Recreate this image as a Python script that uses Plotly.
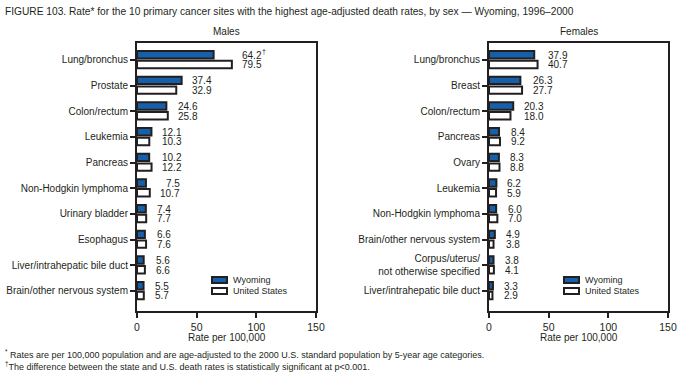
import plotly.graph_objects as go

# ---------------- data ----------------
male_sites = ["Lung/bronchus", "Prostate", "Colon/rectum", "Leukemia", "Pancreas",
              "Non-Hodgkin lymphoma", "Urinary bladder", "Esophagus",
              "Liver/intrahepatic bile duct", "Brain/other nervous system"]
male_wy = [64.2, 37.4, 24.6, 12.1, 10.2, 7.5, 7.4, 6.6, 5.6, 5.5]
male_us = [79.5, 32.9, 25.8, 10.3, 12.2, 10.7, 7.7, 7.6, 6.6, 5.7]
male_sig = [True, False, False, False, False, False, False, False, False, False]

female_sites = ["Lung/bronchus", "Breast", "Colon/rectum", "Pancreas", "Ovary",
                "Leukemia", "Non-Hodgkin lymphoma", "Brain/other nervous system",
                "Corpus/uterus/<br>not otherwise specified", "Liver/intrahepatic bile duct"]
female_wy = [37.9, 26.3, 20.3, 8.4, 8.3, 6.2, 6.0, 4.9, 3.8, 3.3]
female_us = [40.7, 27.7, 18.0, 9.2, 8.8, 5.9, 7.0, 3.8, 4.1, 2.9]
female_sig = [False] * 10

x_ticks = [0, 50, 100, 150]
series_names = ["Wyoming", "United States"]

# ---------------- styling ----------------
W, H = 691, 381
FONT = "Liberation Sans, Arial, sans-serif"
BLUE = "#1560a8"
BLACK = "#231f20"

def px(x):
    return x / W

def py(y):
    return 1 - y / H

# plot boxes in pixels
left_box = (137, 316)
right_box = (489, 668)
top_px, bot_px = 43, 311

fig = go.Figure()

panels = [
    ("x", "y", male_sites, male_wy, male_us, male_sig, left_box, "Males"),
    ("x2", "y2", female_sites, female_wy, female_us, female_sig, right_box, "Females"),
]

annotations = []
shapes = []

def text_w(s):
    return sum(2.78 if c == "." else 5.56 for c in s)

for xa, ya, sites, wy, us, sig, box, title in panels:
    idx = list(range(len(sites)))
    fig.add_trace(go.Bar(
        x=wy, y=idx, orientation="h", xaxis=xa, yaxis=ya,
        name=series_names[0], offset=-0.35, width=0.29,
        marker=dict(color=BLUE, line=dict(color=BLACK, width=2)),
        showlegend=False, hoverinfo="x"))
    fig.add_trace(go.Bar(
        x=us, y=idx, orientation="h", xaxis=xa, yaxis=ya,
        name=series_names[1], offset=0.03, width=0.29,
        marker=dict(color="white", line=dict(color=BLACK, width=2)),
        showlegend=False, hoverinfo="x"))
    for i in idx:
        sw = f"{wy[i]:.1f}"
        su = f"{us[i]:.1f}"
        m = max(wy[i], us[i])
        shift = 13 + max(text_w(sw), text_w(su))
        for txt, yy in ((sw, i - 0.19), (su, i + 0.19)):
            annotations.append(dict(
                x=m, y=yy, xref=xa, yref=ya, text=txt, showarrow=False,
                xanchor="right", yanchor="middle", xshift=shift,
                font=dict(family=FONT, size=10, color=BLACK)))
        if sig[i]:
            annotations.append(dict(
                x=m, y=i - 0.19, xref=xa, yref=ya, text="†", showarrow=False,
                xanchor="left", yanchor="middle", xshift=shift - 4, yshift=4,
                font=dict(family=FONT, size=7, color=BLACK)))
    # panel title
    annotations.append(dict(
        x=px((box[0] + box[1]) / 2), y=py(31), xref="paper", yref="paper",
        text=title, showarrow=False, xanchor="center", yanchor="middle",
        font=dict(family=FONT, size=10, color=BLACK)))
    # x-axis title
    annotations.append(dict(
        x=px((box[0] + box[1]) / 2), y=py(337), xref="paper", yref="paper",
        text="Rate per 100,000", showarrow=False, xanchor="center", yanchor="middle",
        font=dict(family=FONT, size=10, color=BLACK)))
    # custom legend
    lx0 = box[0] + 75
    for k, (fill, ycen) in enumerate(((BLUE, 280), ("white", 291))):
        shapes.append(dict(
            type="rect", xref="paper", yref="paper",
            x0=px(lx0), x1=px(lx0 + 15), y0=py(ycen - 3), y1=py(ycen + 3),
            fillcolor=fill, line=dict(color=BLACK, width=2)))
        annotations.append(dict(
            x=px(lx0 + 19), y=py(ycen), xref="paper", yref="paper",
            text=series_names[k], showarrow=False, xanchor="left", yanchor="middle",
            font=dict(family=FONT, size=9, color=BLACK)))

# figure title
annotations.append(dict(
    x=px(3), y=py(12), xref="paper", yref="paper",
    text="FIGURE 103. Rate* for the 10 primary cancer sites with the highest age-adjusted death rates, by sex \u2014 Wyoming, 1996\u20132000",
    showarrow=False, xanchor="left", yanchor="middle",
    font=dict(family=FONT, size=10.2, color=BLACK)))
# footnotes
annotations.append(dict(
    x=px(3), y=py(354), xref="paper", yref="paper",
    text="<sup>*</sup> Rates are per 100,000 population and are age-adjusted to the 2000 U.S. standard population by 5-year age categories.",
    showarrow=False, xanchor="left", yanchor="middle",
    font=dict(family=FONT, size=9, color=BLACK)))
annotations.append(dict(
    x=px(3), y=py(366), xref="paper", yref="paper",
    text="<sup>\u2020</sup>The difference between the state and U.S. death rates is statistically significant at p<0.001.",
    showarrow=False, xanchor="left", yanchor="middle",
    font=dict(family=FONT, size=9, color=BLACK)))

ydom = [py(bot_px), py(top_px)]
common_x = dict(range=[0, 150], tickvals=x_ticks, ticks="outside", ticklen=5,
                tickwidth=2, tickcolor=BLACK, showline=True, linewidth=2, linecolor=BLACK,
                mirror=True, showgrid=False, zeroline=False, automargin=False,
                tickfont=dict(family=FONT, size=10.5, color=BLACK))
common_y = dict(range=[9.78, -0.66], ticks="outside", ticklen=5, tickwidth=2,
                tickcolor=BLACK, showline=True, linewidth=2, linecolor=BLACK,
                mirror=True, showgrid=False, zeroline=False, automargin=False,
                tickfont=dict(family=FONT, size=10, color=BLACK))

fig.update_layout(
    width=W, height=H, margin=dict(l=0, r=0, t=0, b=0),
    paper_bgcolor="white", plot_bgcolor="white", barmode="overlay",
    xaxis=dict(domain=[px(left_box[0]), px(left_box[1])], anchor="y", **common_x),
    yaxis=dict(domain=ydom, anchor="x", tickvals=list(range(10)), ticktext=male_sites, **common_y),
    xaxis2=dict(domain=[px(right_box[0]), px(right_box[1])], anchor="y2", **common_x),
    yaxis2=dict(domain=ydom, anchor="x2", tickvals=list(range(10)), ticktext=female_sites, **common_y),
    annotations=annotations, shapes=shapes,
)

fig.write_html("out.html", config={"displayModeBar": False},
               post_script="document.body.style.margin='0px';")
